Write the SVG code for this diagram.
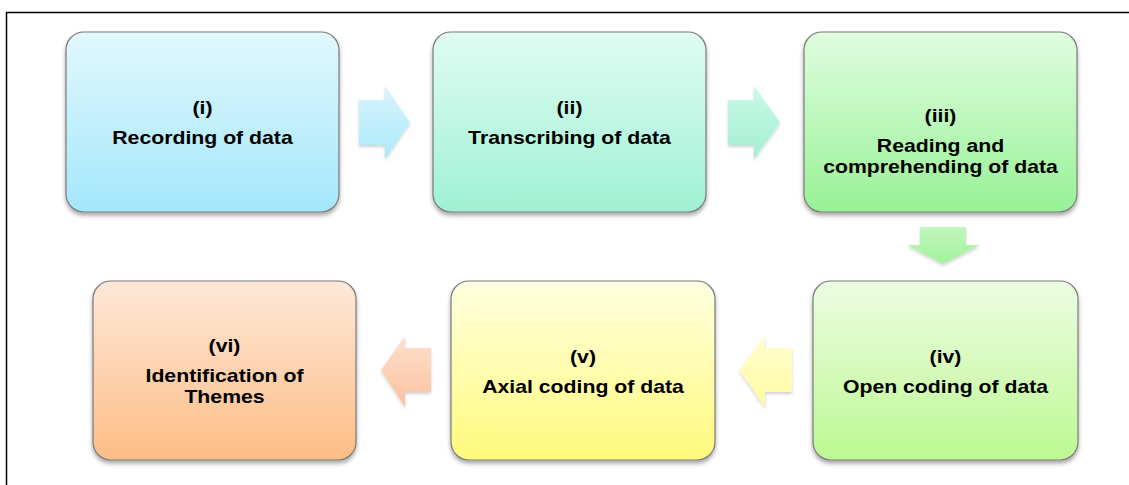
<svg xmlns="http://www.w3.org/2000/svg" width="1129" height="485" viewBox="0 0 1129 485">
  <defs>
    <linearGradient id="gBlue" x1="0" y1="0" x2="0" y2="1">
      <stop offset="0" stop-color="#e2f8fd"/>
      <stop offset="1" stop-color="#a3e7fa"/>
    </linearGradient>
    <linearGradient id="gAqua" x1="0" y1="0" x2="0" y2="1">
      <stop offset="0" stop-color="#e0fcf2"/>
      <stop offset="1" stop-color="#9ff1d4"/>
    </linearGradient>
    <linearGradient id="gGreen" x1="0" y1="0" x2="0" y2="1">
      <stop offset="0" stop-color="#e0fde0"/>
      <stop offset="1" stop-color="#98f196"/>
    </linearGradient>
    <linearGradient id="gLime" x1="0" y1="0" x2="0" y2="1">
      <stop offset="0" stop-color="#ecfde2"/>
      <stop offset="1" stop-color="#bdf892"/>
    </linearGradient>
    <linearGradient id="gYellow" x1="0" y1="0" x2="0" y2="1">
      <stop offset="0" stop-color="#ffffe0"/>
      <stop offset="1" stop-color="#fffa7c"/>
    </linearGradient>
    <linearGradient id="gPeach" x1="0" y1="0" x2="0" y2="1">
      <stop offset="0" stop-color="#fee8d8"/>
      <stop offset="1" stop-color="#fdbd86"/>
    </linearGradient>
    <linearGradient id="aBlue" x1="0" y1="0" x2="0" y2="1">
      <stop offset="0" stop-color="#d8f4fd"/>
      <stop offset="1" stop-color="#abe9fb"/>
    </linearGradient>
    <linearGradient id="aAqua" x1="0" y1="0" x2="0" y2="1">
      <stop offset="0" stop-color="#cbf8e6"/>
      <stop offset="1" stop-color="#a2efd3"/>
    </linearGradient>
    <linearGradient id="aGreen" x1="0" y1="0" x2="0" y2="1">
      <stop offset="0" stop-color="#c0f6bc"/>
      <stop offset="1" stop-color="#a2f29e"/>
    </linearGradient>
    <linearGradient id="aYellow" x1="0" y1="0" x2="0" y2="1">
      <stop offset="0" stop-color="#ffffd2"/>
      <stop offset="1" stop-color="#fff9a0"/>
    </linearGradient>
    <linearGradient id="aPeach" x1="0" y1="0" x2="0" y2="1">
      <stop offset="0" stop-color="#fde0cf"/>
      <stop offset="1" stop-color="#fcc29c"/>
    </linearGradient>
    <filter id="shadow" x="-10%" y="-10%" width="120%" height="130%">
      <feDropShadow dx="0" dy="3" stdDeviation="2" flood-color="#000" flood-opacity="0.35"/>
    </filter>
    <filter id="ashadow" x="-20%" y="-20%" width="140%" height="150%">
      <feDropShadow dx="0" dy="2" stdDeviation="1.5" flood-color="#000" flood-opacity="0.18"/>
    </filter>
  </defs>
  <style>
    .box { stroke: #7a7a7a; stroke-width: 1.2; filter: url(#shadow); }
    .arrow { stroke: none; filter: url(#ashadow); }
    .lbl { font-family: "Liberation Sans", Arial, sans-serif; font-weight: bold; font-size: 18px; fill: #000; text-anchor: middle; }
  </style>

  <rect x="0" y="0" width="1129" height="485" fill="#ffffff"/>
  <!-- page frame -->
  <path d="M6.5,485 V12.5 H1129" fill="none" stroke="#000" stroke-width="1.5"/>

  <g id="connectors">
    <path class="arrow" fill="url(#aBlue)" d="M359,100 H385 V86 L410,122.5 L385,159 V145 H359 Z"/>
    <path class="arrow" fill="url(#aAqua)" d="M728,100 H754 V86 L780,122.5 L754,159 V145 H728 Z"/>
    <path class="arrow" fill="url(#aGreen)" d="M920,227 H966 V245 H980 L943,264 L907,245 H920 Z"/>
    <path class="arrow" fill="url(#aYellow)" d="M792,348 H765 V336 L739,370 L765,407 V392 H792 Z"/>
    <path class="arrow" fill="url(#aPeach)" d="M431,348 H405 V336 L381,370 L405,407 V392 H431 Z"/>
  </g>

  <g id="node1">
    <rect class="box" x="66" y="32" width="273" height="180" rx="18" fill="url(#gBlue)"/>
    <text class="lbl" transform="translate(202.5,113.5) scale(1.18,1)">(i)</text>
    <text class="lbl" transform="translate(202.5,144.3) scale(1.18,1)">Recording of data</text>
  </g>

  <g id="node2">
    <rect class="box" x="433" y="32" width="273" height="180" rx="18" fill="url(#gAqua)"/>
    <text class="lbl" transform="translate(569.5,113.5) scale(1.18,1)">(ii)</text>
    <text class="lbl" transform="translate(569.5,144.3) scale(1.18,1)">Transcribing of data</text>
  </g>

  <g id="node3">
    <rect class="box" x="804" y="32" width="273" height="180" rx="18" fill="url(#gGreen)"/>
    <text class="lbl" transform="translate(940.5,121.7) scale(1.18,1)">(iii)</text>
    <text class="lbl" transform="translate(940.5,151.7) scale(1.18,1)">Reading and</text>
    <text class="lbl" transform="translate(940.5,172.5) scale(1.18,1)">comprehending of data</text>
  </g>

  <g id="node4">
    <rect class="box" x="813" y="281" width="265" height="179" rx="18" fill="url(#gLime)"/>
    <text class="lbl" transform="translate(945.5,362.5) scale(1.18,1)">(iv)</text>
    <text class="lbl" transform="translate(945.5,392.7) scale(1.18,1)">Open coding of data</text>
  </g>

  <g id="node5">
    <rect class="box" x="451" y="281" width="264" height="179" rx="18" fill="url(#gYellow)"/>
    <text class="lbl" transform="translate(583,362.5) scale(1.18,1)">(v)</text>
    <text class="lbl" transform="translate(583,392.7) scale(1.18,1)">Axial coding of data</text>
  </g>

  <g id="node6">
    <rect class="box" x="93" y="281" width="263" height="179" rx="18" fill="url(#gPeach)"/>
    <text class="lbl" transform="translate(224.5,352) scale(1.18,1)">(vi)</text>
    <text class="lbl" transform="translate(224.5,381.7) scale(1.18,1)">Identification of</text>
    <text class="lbl" transform="translate(224.5,403.3) scale(1.18,1)">Themes</text>
  </g>
</svg>
